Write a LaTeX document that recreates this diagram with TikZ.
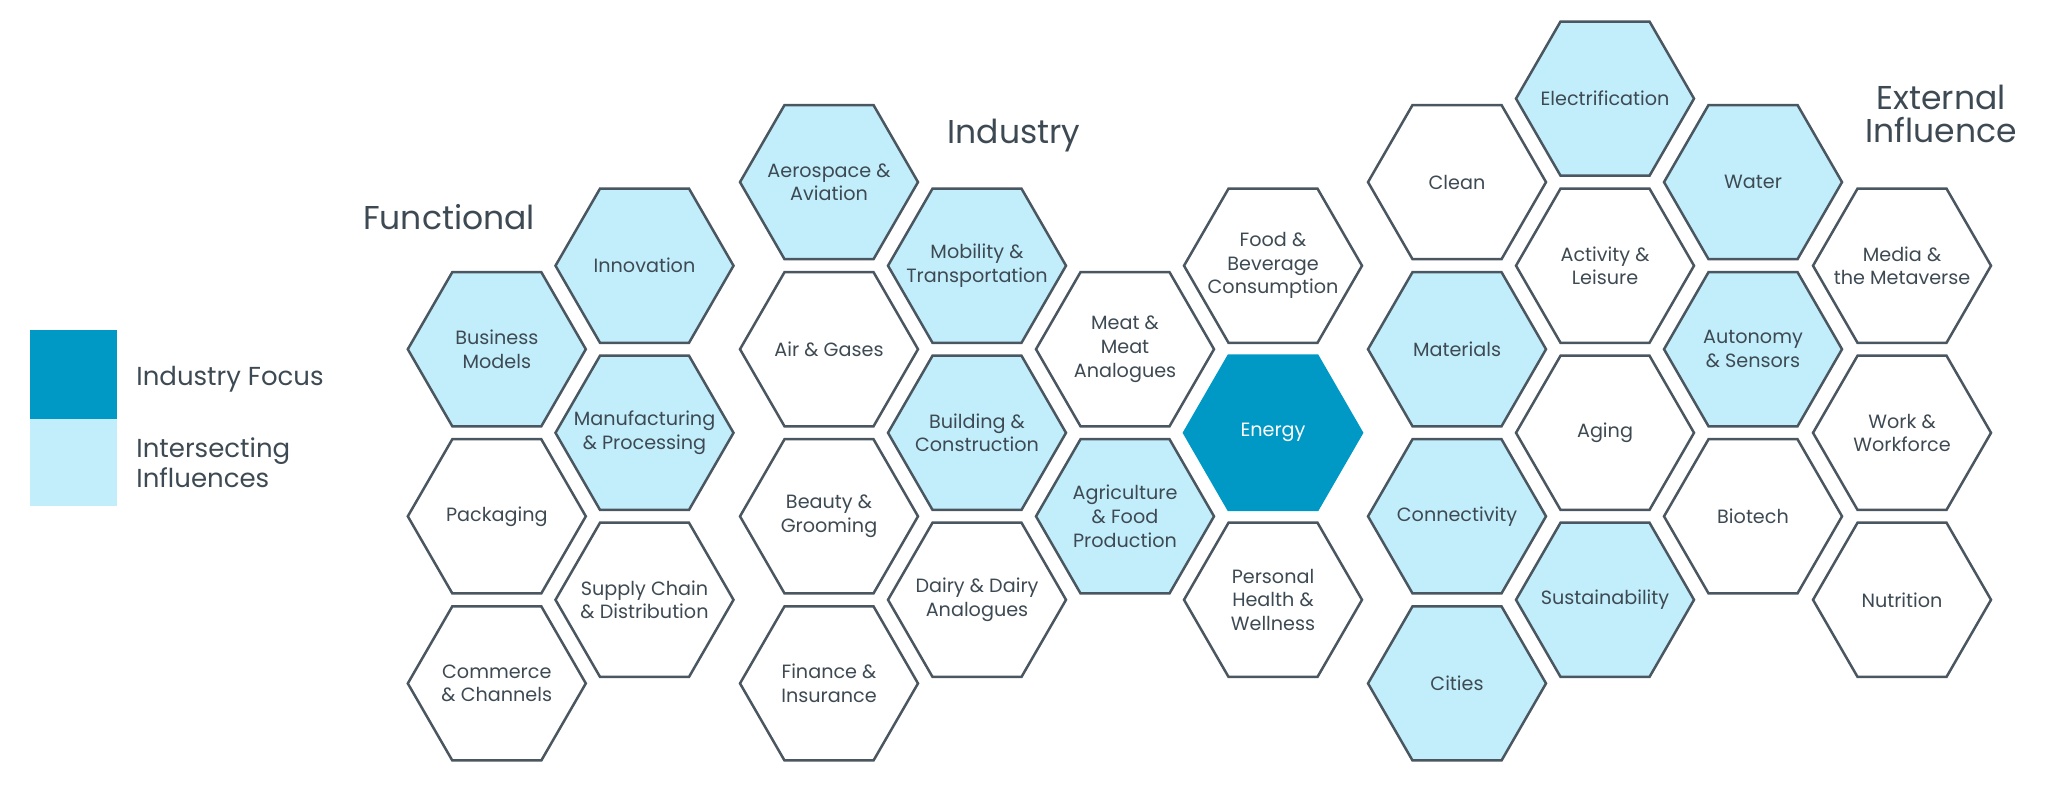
\documentclass[tikz,border=0pt]{standalone}
\usepackage{fontspec}
\setmainfont{Poppins}
\usetikzlibrary{shapes.geometric}
\definecolor{focus}{HTML}{0099C6}
\definecolor{lite}{HTML}{C2EEFB}
\definecolor{edge}{HTML}{4A5660}
\definecolor{ink}{HTML}{3E4A53}
\begin{document}
\begin{tikzpicture}[x=0.5pt,y=-0.5pt,
  hex/.style={regular polygon, regular polygon sides=6, minimum size=89pt,
    inner sep=0pt, draw=edge, line width=1.25pt, fill=white},
  lit/.style={hex, fill=lite},
  hot/.style={hex, fill=focus, draw=focus},
  every label/.style={align=center, inner sep=0pt, text=ink,
    font=\fontsize{9.6}{11.8}\selectfont},
  title/.style={inner sep=0pt, text=ink, font=\fontsize{16.5}{16.9}\selectfont},
  key/.style={minimum width=43.7pt, inner sep=0pt},
  keytext/.style={inner sep=0pt, text=ink, font=\fontsize{13}{14.8}\selectfont}]
\useasboundingbox (0,0) rectangle (2048,789);

% legend
\node[key, fill=focus, minimum height=44.4pt] (kf) at (73.7,374.4) {};
\node[key, fill=lite, minimum height=43.7pt] (ki) at (73.7,462.4) {};
\node[keytext, anchor=base west] (kft) at (136,385) {Industry Focus};
\node[keytext, anchor=west, align=left] (kit) at (136,462.5) {Intersecting\\Influences};

% headings
\node[title, anchor=base] (fn) at (449,229.6) {Functional};
\node[title, anchor=base] (ind) at (1014,143) {Industry};
\node[title, align=center] (ext) at (1941,114) {External\\Influence};

% functional
\node[lit, label=center:Innovation] (inno) at (644.5,265.7) {};
\node[lit, label={center:Business\\Models}] (bizm) at (496.8,349.2) {};
\node[lit, label={center:Manufacturing\\\& Processing}] (manu) at (644.5,432.8) {};
\node[hex, label=center:Packaging] (pack) at (496.8,516.3) {};
\node[hex, label={center:Supply Chain\\\& Distribution}] (supp) at (644.5,599.8) {};
\node[hex, label={center:Commerce\\\& Channels}] (comm) at (496.8,683.4) {};

% industry
\node[lit, label={center:Aerospace \&\\Aviation}] (aero) at (829,182.1) {};
\node[hex, label={center:Air \& Gases}] (air) at (829,349.2) {};
\node[hex, label={center:Beauty \&\\Grooming}] (beau) at (829,516.3) {};
\node[hex, label={center:Finance \&\\Insurance}] (fin) at (829,683.4) {};
\node[lit, label={center:Mobility \&\\Transportation}] (mob) at (977,265.7) {};
\node[lit, label={center:Building \&\\Construction}] (bld) at (977,432.8) {};
\node[hex, label={center:Dairy \& Dairy\\Analogues}] (dairy) at (977,599.8) {};
\node[hex, label={center:Meat \&\\Meat\\Analogues}] (meat) at (1125,349.2) {};
\node[lit, label={center:Agriculture\\\& Food\\Production}] (agri) at (1125,516.3) {};
\node[hex, label={center:Food \&\\Beverage\\Consumption}] (food) at (1273,265.7) {};
\node[hot, label={[text=white]center:Energy}] (nrg) at (1273,432.8) {};
\node[hex, label={center:Personal\\Health \&\\Wellness}] (pers) at (1273,599.8) {};

% external
\node[hex, label=center:Clean] (clean) at (1457,182.1) {};
\node[lit, label=center:Materials] (mat) at (1457,349.2) {};
\node[lit, label=center:Connectivity] (conn) at (1457,516.3) {};
\node[lit, label=center:Cities] (city) at (1457,683.4) {};
\node[lit, label=center:Electrification] (elec) at (1605,98.6) {};
\node[hex, label={center:Activity \&\\Leisure}] (act) at (1605,265.7) {};
\node[hex, label=center:Aging] (aging) at (1605,432.8) {};
\node[lit, label=center:Sustainability] (sust) at (1605,599.8) {};
\node[lit, label=center:Water] (water) at (1753,182.1) {};
\node[lit, label={center:Autonomy\\\& Sensors}] (auto) at (1753,349.2) {};
\node[hex, label=center:Biotech] (bio) at (1753,516.3) {};
\node[hex, label={center:Media \&\\the Metaverse}] (media) at (1902,265.7) {};
\node[hex, label={center:Work \&\\Workforce}] (work) at (1902,432.8) {};
\node[hex, label=center:Nutrition] (nutr) at (1902,599.8) {};
\end{tikzpicture}
\end{document}
